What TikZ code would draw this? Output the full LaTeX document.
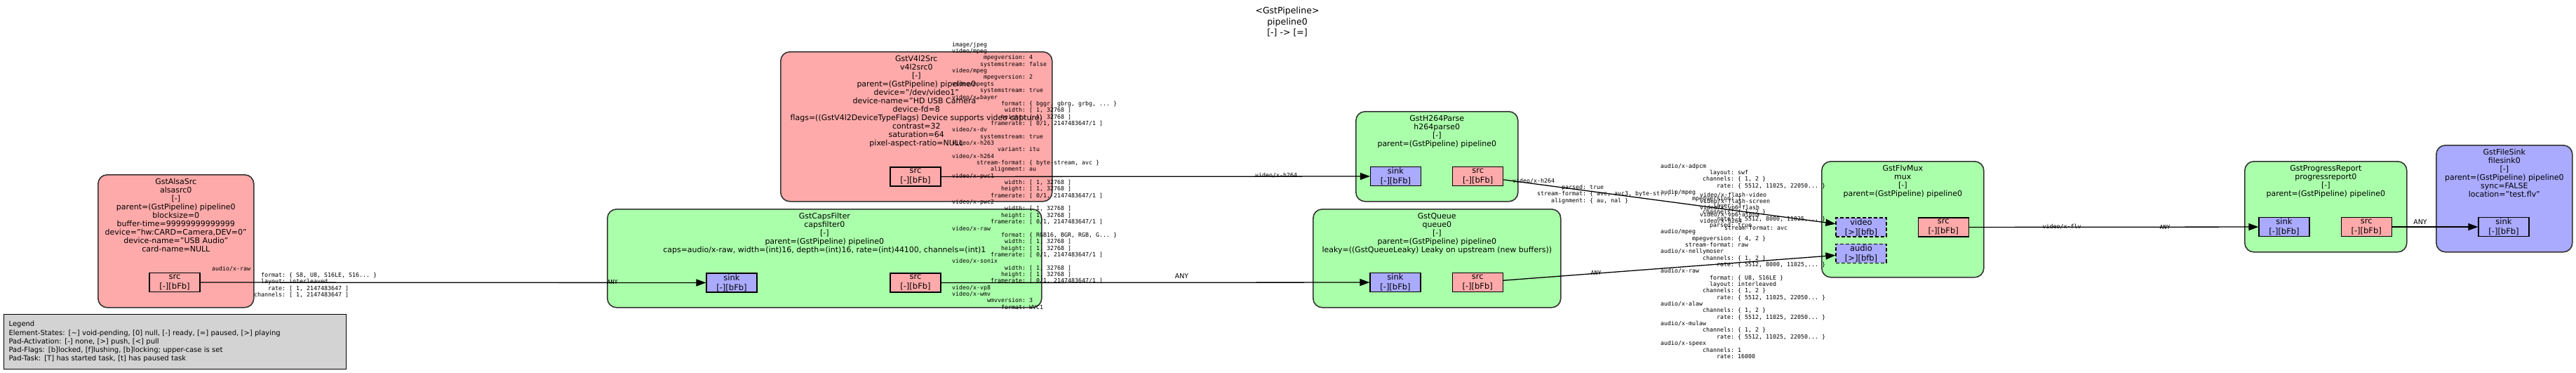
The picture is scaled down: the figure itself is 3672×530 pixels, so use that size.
\documentclass[tikz,border=0pt]{standalone}
\usepackage{fontspec}
\setmainfont{DejaVu Sans}
\setmonofont{DejaVu Sans Mono}
\usepackage{xcolor}
\usetikzlibrary{positioning,arrows.meta}
\definecolor{srcred}{HTML}{FFAAAA}
\definecolor{filtgreen}{HTML}{AAFFAA}
\definecolor{sinkblue}{HTML}{AAAAFF}
\definecolor{legendgray}{HTML}{D3D3D3}
\newcommand{\fld}[2]{\makebox[21\fontcharwd\font`0][r]{#1:}\ #2}

\begin{document}
\begin{tikzpicture}[
        x=1pt, y=-1pt,
        >={Triangle[length=14pt,width=10pt]},
        elem/.style={draw=black!80, line width=1.6pt, rounded corners=13pt, anchor=north west, inner sep=0},
        etext/.style={font=\fontsize{11}{12}\selectfont, align=center, inner sep=0},
        srcpad/.style={draw=black, line width=1.2pt, fill=srcred, minimum width=72pt, minimum height=27pt, inner sep=0, align=center, font=\fontsize{11.5}{14}\selectfont},
        sinkpad/.style={srcpad, fill=sinkblue},
        reqpad/.style={sinkpad, dash pattern=on 5pt off 3pt},
        capstext/.style={anchor=north west, align=left, inner sep=0, font=\ttfamily\fontsize{8.3}{9.35}\selectfont},
        capsone/.style={inner sep=0, font=\ttfamily\fontsize{8.3}{9.35}\selectfont},
        anylabel/.style={inner sep=0, font=\fontsize{9.5}{11}\selectfont},
        link/.style={->, line width=1.3pt}]
        \fill[white] (0,0) rectangle (3672,530);
        % TITLE
        \node[font=\fontsize{12.5}{15.5}\selectfont, align=center] (title) at (1835,31.5) {<GstPipeline>\\pipeline0\\{}[-] -> [=]};
        % legend
        \node[draw=black, line width=1.2pt, fill=legendgray, anchor=north west, minimum height=78pt, text width=474pt, inner sep=7pt, align=left, font=\fontsize{10}{12.3}\selectfont] (legend) at (5,447) {Legend\\Element-States: [\textasciitilde] void-pending, [0] null, [-] ready, [=] paused, [>] playing\\Pad-Activation: [-] none, [>] push, [<] pull\\Pad-Flags: [b]locked, [f]lushing, [b]locking; upper-case is set\\Pad-Task: [T] has started task, [t] has paused task};

        % ELEMENTS
        % alsasrc
        \node[elem, fill=srcred, minimum width=222pt, minimum height=189pt] (alsa) at (139,248) {};
        \node[etext, below=6pt of alsa.north] (alsatxt) {GstAlsaSrc\\alsasrc0\\{}[-]\\parent=(GstPipeline) pipeline0\\blocksize=0\\buffer-time=99999999999999\\device="hw:CARD=Camera,DEV=0"\\device-name="USB Audio"\\card-name=NULL};
        \node[srcpad] (alsasrc) at (249,402) {src\\{}[-][bFb]};
        % v4l2src
        \node[elem, fill=srcred, minimum width=387pt, minimum height=213pt] (v4l) at (1112,73) {};
        \node[etext, below=6pt of v4l.north] (v4ltxt) {GstV4l2Src\\v4l2src0\\{}[-]\\parent=(GstPipeline) pipeline0\\device="/dev/video1"\\device-name="HD USB Camera"\\device-fd=8\\flags=((GstV4l2DeviceTypeFlags) Device supports video capture)\\contrast=32\\saturation=64\\pixel-aspect-ratio=NULL};
        \node[srcpad] (v4lsrc) at (1305,251.5) {src\\{}[-][bFb]};
        % capsfilter
        \node[elem, fill=filtgreen, minimum width=619pt, minimum height=140pt] (caps) at (865,297) {};
        \node[etext, below=6pt of caps.north] (capstxt) {GstCapsFilter\\capsfilter0\\{}[-]\\parent=(GstPipeline) pipeline0\\caps=audio/x-raw, width=(int)16, depth=(int)16, rate=(int)44100, channels=(int)1};
        \node[sinkpad] (capssink) at (1043,402.5) {sink\\{}[-][bFb]};
        \node[srcpad] (capssrc) at (1305,402.5) {src\\{}[-][bFb]};
        % h264parse
        \node[elem, fill=filtgreen, minimum width=231pt, minimum height=128pt] (parse) at (1932,158) {};
        \node[etext, below=6pt of parse.north] (parsetxt) {GstH264Parse\\h264parse0\\{}[-]\\parent=(GstPipeline) pipeline0};
        \node[sinkpad] (parsesink) at (1989.5,251) {sink\\{}[-][bFb]};
        \node[srcpad, right=44pt of parsesink] (parsesrc) {src\\{}[-][bFb]};
        % queue
        \node[elem, fill=filtgreen, minimum width=353pt, minimum height=140pt] (queue) at (1871,297) {};
        \node[etext, below=6pt of queue.north] (queuetxt) {GstQueue\\queue0\\{}[-]\\parent=(GstPipeline) pipeline0\\leaky=((GstQueueLeaky) Leaky on upstream (new buffers))};
        \node[sinkpad] (queuesink) at (1989,402) {sink\\{}[-][bFb]};
        \node[srcpad, right=44pt of queuesink] (queuesrc) {src\\{}[-][bFb]};
        % flvmux
        \node[elem, fill=filtgreen, minimum width=231pt, minimum height=165pt] (mux) at (2596,229) {};
        \node[etext, below=6pt of mux.north] (muxtxt) {GstFlvMux\\mux\\{}[-]\\parent=(GstPipeline) pipeline0};
        \node[reqpad] (muxvideo) at (2653,323.5) {video\\{}[>][bfb]};
        \node[reqpad, below=9pt of muxvideo] (muxaudio) {audio\\{}[>][bfb]};
        \node[srcpad, right=44pt of muxvideo] (muxsrc) {src\\{}[-][bFb]};
        % progressreport
        \node[elem, fill=filtgreen, minimum width=231pt, minimum height=129pt] (prog) at (3199,229) {};
        \node[etext, below=6pt of prog.north] (progtxt) {GstProgressReport\\progressreport0\\{}[-]\\parent=(GstPipeline) pipeline0};
        \node[sinkpad] (progsink) at (3256,323) {sink\\{}[-][bFb]};
        \node[srcpad, right=44pt of progsink] (progsrc) {src\\{}[-][bFb]};
        % filesink
        \node[elem, fill=sinkblue, minimum width=194pt, minimum height=152pt] (fsink) at (3472,206) {};
        \node[etext, below=6pt of fsink.north] (fsinktxt) {GstFileSink\\filesink0\\{}[-]\\parent=(GstPipeline) pipeline0\\sync=FALSE\\location="test.flv"};
        \node[sinkpad] (fsinksink) at (3569,323) {sink\\{}[-][bFb]};

        % ARROWS
        \draw[link] (alsasrc)--(capssink);
        \draw[link] (v4lsrc)--(parsesink);
        \draw[link] (capssrc)--(queuesink);
        \draw[link] (parsesrc)--(muxvideo);
        \draw[link] (queuesrc)--(muxaudio);
        \draw[link] (muxsrc)--(progsink);
        \draw[link] (progsrc)--(fsinksink);

        % CAPS LABELS
        \node[capstext] (alsacaps) at (302,378.7) {audio/x-raw\\
          \fld{format}{\{ S8, U8, S16LE, S16... \}}\\
          \fld{layout}{interleaved}\\
          \fld{rate}{[ 1, 2147483647 ]}\\
          \fld{channels}{[ 1, 2147483647 ]}};
        \node[capsone] (capsany) at (873,401) {ANY};
        \node[capstext] (v4lcaps) at (1357,59.7) {image/jpeg\\
          video/mpeg\\
          \fld{mpegversion}{4}\\
          \fld{systemstream}{false}\\
          video/mpeg\\
          \fld{mpegversion}{2}\\
          video/mpegts\\
          \fld{systemstream}{true}\\
          video/x-bayer\\
          \fld{format}{\{ bggr, gbrg, grbg, ... \}}\\
          \fld{width}{[ 1, 32768 ]}\\
          \fld{height}{[ 1, 32768 ]}\\
          \fld{framerate}{[ 0/1, 2147483647/1 ]}\\
          video/x-dv\\
          \fld{systemstream}{true}\\
          video/x-h263\\
          \fld{variant}{itu}\\
          video/x-h264\\
          \fld{stream-format}{\{ byte-stream, avc \}}\\
          \fld{alignment}{au}\\
          video/x-pwc1\\
          \fld{width}{[ 1, 32768 ]}\\
          \fld{height}{[ 1, 32768 ]}\\
          \fld{framerate}{[ 0/1, 2147483647/1 ]}\\
          video/x-pwc2\\
          \fld{width}{[ 1, 32768 ]}\\
          \fld{height}{[ 1, 32768 ]}\\
          \fld{framerate}{[ 0/1, 2147483647/1 ]}\\
          video/x-raw\\
          \fld{format}{\{ RGB16, BGR, RGB, G... \}}\\
          \fld{width}{[ 1, 32768 ]}\\
          \fld{height}{[ 1, 32768 ]}\\
          \fld{framerate}{[ 0/1, 2147483647/1 ]}\\
          video/x-sonix\\
          \fld{width}{[ 1, 32768 ]}\\
          \fld{height}{[ 1, 32768 ]}\\
          \fld{framerate}{[ 0/1, 2147483647/1 ]}\\
          video/x-vp8\\
          video/x-wmv\\
          \fld{wmvversion}{3}\\
          \fld{format}{WVC1}};
        \node[capsone] (parseany) at (1819,250) {video/x-h264};
        \node[anylabel] (queueany) at (1684.5,393) {ANY};
        \node[capstext] (parsecaps) at (2156,253.7) {video/x-h264\\
          \fld{parsed}{true}\\
          \fld{stream-format}{\{ avc, avc3, byte-st... \}}\\
          \fld{alignment}{\{ au, nal \}}};
        \node[capstext] (videocaps) at (2423,273.7) {video/x-flash-video\\
          video/x-flash-screen\\
          video/x-vp6-flash\\
          video/x-vp6-alpha\\
          video/x-h264\\
          \fld{stream-format}{avc}};
        \node[capsone] (queueout) at (2275,388) {ANY};
        \node[capstext] (audiocaps) at (2367,232.7) {audio/x-adpcm\\
          \fld{layout}{swf}\\
          \fld{channels}{\{ 1, 2 \}}\\
          \fld{rate}{\{ 5512, 11025, 22050... \}}\\
          audio/mpeg\\
          \fld{mpegversion}{1}\\
          \fld{layer}{3}\\
          \fld{channels}{\{ 1, 2 \}}\\
          \fld{rate}{\{ 5512, 8000, 11025,... \}}\\
          \fld{parsed}{true}\\
          audio/mpeg\\
          \fld{mpegversion}{\{ 4, 2 \}}\\
          \fld{stream-format}{raw}\\
          audio/x-nellymoser\\
          \fld{channels}{\{ 1, 2 \}}\\
          \fld{rate}{\{ 5512, 8000, 11025,... \}}\\
          audio/x-raw\\
          \fld{format}{\{ U8, S16LE \}}\\
          \fld{layout}{interleaved}\\
          \fld{channels}{\{ 1, 2 \}}\\
          \fld{rate}{\{ 5512, 11025, 22050... \}}\\
          audio/x-alaw\\
          \fld{channels}{\{ 1, 2 \}}\\
          \fld{rate}{\{ 5512, 11025, 22050... \}}\\
          audio/x-mulaw\\
          \fld{channels}{\{ 1, 2 \}}\\
          \fld{rate}{\{ 5512, 11025, 22050... \}}\\
          audio/x-speex\\
          \fld{channels}{1}\\
          \fld{rate}{16000}};
        \node[capsone] (muxcaps) at (2939,323) {video/x-flv};
        \node[capsone] (progany) at (3086,323) {ANY};
        \node[anylabel] (fsinkany) at (3450,316) {ANY};
    \end{tikzpicture}
\end{document}
